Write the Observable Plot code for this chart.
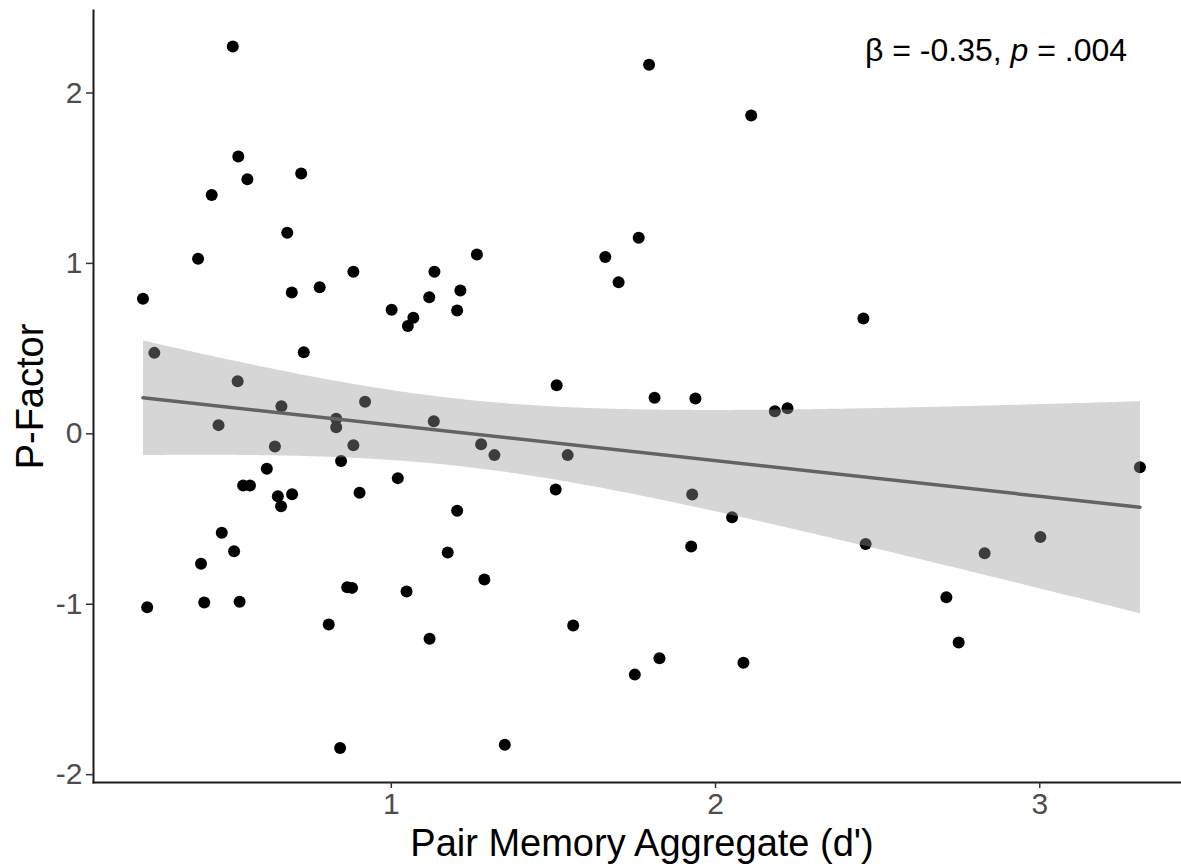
<!DOCTYPE html>
<html>
<head>
<meta charset="utf-8">
<script src="https://cdn.jsdelivr.net/npm/d3@7"></script>
<script src="https://cdn.jsdelivr.net/npm/@observablehq/plot@0.6"></script>
<style>
  html, body { margin: 0; padding: 0; background: #fff; overflow: hidden; }
  #chart { width: 1181px; height: 867px; overflow: hidden; }
  #chart svg { max-width: none !important; }
</style>
</head>
<body>
<div id="chart"></div>
<script>
// Pair memory aggregate (d') for each participant
const dPrime = [
  0.234, 0.247, 0.269, 0.404, 0.413, 0.423, 0.446, 0.467, 0.477, 0.511,
  0.515, 0.526, 0.528, 0.532, 0.543, 0.564, 0.556, 0.616, 0.641, 0.650,
  0.660, 0.661, 0.679, 0.693, 0.694, 0.722, 0.730, 0.779, 0.807, 0.830,
  0.830, 0.842, 0.845, 0.864, 0.879, 0.883, 0.883, 0.902, 0.919, 1.001,
  1.020, 1.047, 1.051, 1.068, 1.117, 1.118, 1.131, 1.133, 1.174, 1.203,
  1.203, 1.213, 1.264, 1.277, 1.287, 1.318, 1.350, 1.507, 1.510, 1.544,
  1.561, 1.660, 1.701, 1.751, 1.763, 1.795, 1.812, 1.827, 1.925, 1.928,
  1.938, 2.051, 2.086, 2.110, 2.183, 2.222, 2.456, 2.463, 2.712, 2.750,
  2.830, 3.002, 3.309
];
// P-Factor score for each participant (same order)
const pFactor = [
  0.792, -1.018, 0.475, 1.027, -0.763, -0.990, 1.402, 0.051, -0.581, 2.273,
  -0.689, 0.309, 1.627, -0.986, -0.303, -0.303, 1.494, -0.205, -0.075, -0.366,
  -0.425, 0.162, 1.180, 0.829, -0.354, 1.528, 0.479, 0.860, -1.119, 0.088,
  0.039, -1.843, -0.159, -0.900, -0.904, 0.951, -0.067, -0.346, 0.188, 0.728,
  -0.260, -0.925, 0.632, 0.681, 0.802, -1.203, 0.074, 0.951, -0.697, 0.724,
  -0.452, 0.841, 1.052, -0.061, -0.855, -0.125, -1.825, -0.327, 0.285, -0.125,
  -1.125, 1.037, 0.890, -1.413, 1.150, 2.166, 0.211, -1.317, -0.661, -0.356,
  0.207, -0.489, -1.344, 1.868, 0.133, 0.150, 0.677, -0.646, -0.959, -1.225,
  -0.701, -0.605, -0.196
];
const xTicks = [1, 2, 3];
const yTicks = [-2, -1, 0, 1, 2];
const xTitle = "Pair Memory Aggregate (d')";
const yTitle = "P-Factor";
const statBeta = "-0.35";
const statP = ".004";
const annotX = [2.865];
const annotY = [2.25];

const data = dPrime.map((d, i) => ({x: d, y: pFactor[i]}));
const annotation = [{x: annotX[0], y: annotY[0], label: `β = ${statBeta}, p = ${statP}`}];

const font = "'Liberation Sans', Arial, Helvetica, sans-serif";

const chart = Plot.plot({
  width: 1190,
  height: 867,
  marginLeft: 93,
  marginRight: 0,
  marginTop: 10,
  marginBottom: 85,
  style: {fontFamily: font, background: "white", overflow: "visible", maxWidth: "none"},
  x: {domain: [0.0814, 3.465]},
  y: {domain: [-2.046, 2.484]},
  marks: [
    Plot.frame({anchor: "left", stroke: "#1a1a1a", strokeWidth: 2}),
    Plot.frame({anchor: "bottom", stroke: "#1a1a1a", strokeWidth: 2}),
    Plot.axisX({ticks: xTicks, tickFormat: d => `${d}`, tickSize: 6, tickPadding: 4,
      fontSize: 30, stroke: "#333", strokeWidth: 1.5, color: "#4d4d4d", label: null}),
    Plot.axisY({ticks: yTicks, tickFormat: d => `${d}`, tickSize: 7, tickPadding: 4,
      fontSize: 30, stroke: "#333", strokeWidth: 1.5, color: "#4d4d4d", label: null}),
    Plot.dot(data, {x: "x", y: "y", r: 6, fill: "black", stroke: "none"}),
    Plot.linearRegressionY(data, {x: "x", y: "y", stroke: "#636363", strokeWidth: 3.5,
      fill: "#999999", fillOpacity: 0.4, ci: 0.95}),
    Plot.text([xTitle], {frameAnchor: "bottom", lineAnchor: "bottom", textAnchor: "middle", dy: 73,
      fontSize: 38, fill: "black", text: d => d}),
    Plot.text([yTitle], {frameAnchor: "left", lineAnchor: "bottom", textAnchor: "middle", rotate: -90, dx: -51,
      fontSize: 38, fill: "black", text: d => d}),
    Plot.text(annotation, {x: "x", y: "y", text: "label", fontSize: 32, fill: "black",
      textAnchor: "middle", className: "stat-label"})
  ]
});

document.getElementById("chart").appendChild(chart);

// italicise "p" in the statistics annotation
const t = chart.querySelector(".stat-label text");
if (t) {
  t.textContent = "";
  const ns = "http://www.w3.org/2000/svg";
  const parts = [[`β = ${statBeta}, `, "normal"], ["p", "italic"], [` = ${statP}`, "normal"]];
  for (const [s, st] of parts) {
    const ts = document.createElementNS(ns, "tspan");
    ts.setAttribute("font-style", st);
    ts.textContent = s;
    t.appendChild(ts);
  }
}
</script>
</body>
</html>
